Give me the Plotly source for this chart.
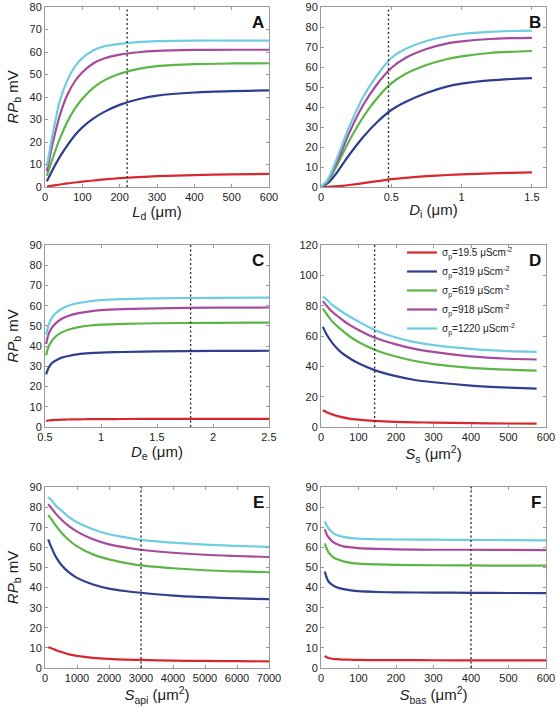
import plotly.graph_objects as go

# ---------------- data ----------------
series_names = ["σ<sub>p</sub>=19.5 μScm<sup>-2</sup>",
                "σ<sub>p</sub>=319 μScm<sup>-2</sup>",
                "σ<sub>p</sub>=619 μScm<sup>-2</sup>",
                "σ<sub>p</sub>=918 μScm<sup>-2</sup>",
                "σ<sub>p</sub>=1220 μScm<sup>-2</sup>"]
series_colors = ["#d7282f", "#2d3f8e", "#5bb646", "#a64a9c", "#6fcde0"]

# Panel A: L_d
a_x = [5, 20, 40, 60, 80, 100, 130, 160, 200, 250, 300, 400, 500, 600]
a_red = [0.2, 0.6, 1.1, 1.6, 2.0, 2.4, 2.9, 3.4, 3.9, 4.4, 4.8, 5.3, 5.6, 5.8]
a_blue = [2.5, 7.5, 13.5, 18.5, 23, 26.5, 30.5, 33.5, 36.5, 39, 40.6, 42, 42.6, 42.9]
a_green = [5, 12.5, 21.6, 29, 34.8, 39.2, 44.2, 47.5, 50.3, 52.5, 53.7, 54.6, 54.9, 55]
a_magenta = [7, 19, 32, 41, 47, 51, 55, 57.2, 58.8, 59.9, 60.5, 60.9, 61, 61]
a_cyan = [9, 23, 38.5, 47.5, 53.5, 57.3, 60.8, 62.6, 63.6, 64.4, 64.8, 65.1, 65.1, 65.1]

# Panel B: D_i
b_x = [0, 0.05, 0.1, 0.15, 0.2, 0.3, 0.4, 0.5, 0.6, 0.75, 0.9, 1.0, 1.2, 1.35, 1.5]
b_red = [0, 0.1, 0.3, 0.6, 1.0, 1.9, 2.9, 3.9, 4.6, 5.4, 6.0, 6.3, 6.8, 7.1, 7.3]
b_blue = [0, 2, 6, 11, 16, 25, 32.5, 38.5, 42.5, 47, 50.3, 51.7, 53.3, 54, 54.4]
b_green = [0, 3, 9, 16, 23, 35, 44.5, 51.8, 56.5, 61, 64, 65.3, 67, 67.6, 68]
b_magenta = [0, 3.5, 10.5, 18.5, 27, 41, 51.5, 59.5, 64.5, 69, 71.8, 72.8, 74, 74.4, 74.6]
b_cyan = [0, 4, 12, 21, 30, 45, 56, 64.5, 69, 73, 75.5, 76.5, 77.6, 78, 78.2]

# Panel C: D_e
c_x = [0.51, 0.53, 0.56, 0.6, 0.65, 0.7, 0.8, 0.9, 1.0, 1.2, 1.5, 2.0, 2.5]
c_red = [3, 3.2, 3.4, 3.5, 3.6, 3.7, 3.8, 3.85, 3.9, 3.95, 4.0, 4.0, 4.05]
c_blue = [26, 29, 31.5, 33, 34.3, 35, 36, 36.5, 36.8, 37.1, 37.4, 37.6, 37.7]
c_green = [35.5, 39.5, 42.5, 45, 46.8, 48, 49.4, 50.2, 50.6, 51, 51.3, 51.5, 51.6]
c_magenta = [41, 45.5, 49, 51.5, 53.5, 54.8, 56.3, 57.2, 57.8, 58.3, 58.7, 59, 59.1]
c_cyan = [45.5, 50, 54, 56.5, 58.5, 59.8, 61.3, 62.2, 62.7, 63.2, 63.6, 63.9, 64]

# Panel D: S_s
d_x = [5, 15, 30, 50, 75, 100, 143, 200, 250, 300, 400, 500, 575]
d_red = [11, 9.8, 8.3, 6.8, 5.5, 4.8, 4, 3.4, 3.1, 2.9, 2.6, 2.3, 2.2]
d_blue = [66, 61, 55.5, 50, 45.5, 42, 37.5, 33.5, 31, 29.5, 27.3, 26, 25.3]
d_green = [78, 74.5, 69.5, 65, 60, 56, 51, 46.5, 43.5, 41.5, 39, 37.8, 37.2]
d_magenta = [83, 80, 76, 72, 67.5, 64, 59, 54.5, 51.5, 49.5, 46.5, 45, 44.5]
d_cyan = [86, 84, 80.5, 77, 73, 69.5, 64, 59, 56, 54, 51.5, 50, 49.5]

# Panel E: S_api
e_x = [100, 200, 350, 500, 750, 1000, 1500, 2000, 2500, 3000, 4000, 5000, 6000, 7000]
e_red = [10.3, 9.8, 8.8, 8, 6.8, 6, 5, 4.5, 4.2, 4, 3.7, 3.5, 3.4, 3.3]
e_blue = [64, 60, 55, 51.5, 47.5, 44.8, 41.5, 39.5, 38.3, 37.4, 36, 35.2, 34.6, 34.2]
e_green = [76, 74, 70.5, 67.5, 63.5, 60.5, 56.5, 54, 52.3, 51, 49.6, 48.6, 48, 47.6]
e_magenta = [81.5, 79.5, 76.5, 74, 70.5, 67.8, 64, 61.5, 60, 58.8, 57.3, 56.3, 55.7, 55.2]
e_cyan = [85, 83.5, 80.5, 78.5, 75, 72.5, 69, 66.5, 65, 63.7, 62.3, 61.3, 60.7, 60.2]

# Panel F: S_bas
f_x = [10, 15, 20, 30, 40, 60, 80, 100, 150, 200, 300, 400, 500, 600]
f_red = [6, 5.3, 5, 4.6, 4.4, 4.2, 4.1, 4.0, 3.95, 3.9, 3.85, 3.8, 3.8, 3.8]
f_blue = [48, 45, 43, 41.3, 40.3, 39.2, 38.6, 38.2, 37.8, 37.6, 37.5, 37.4, 37.3, 37.2]
f_green = [62, 59.5, 57.5, 55.5, 54.3, 53, 52.3, 51.9, 51.5, 51.3, 51.1, 51, 50.9, 50.9]
f_magenta = [69, 66.5, 65, 63, 61.8, 60.5, 60, 59.6, 59.2, 59, 58.8, 58.8, 58.7, 58.6]
f_cyan = [73, 71, 69.5, 67.5, 66.3, 65.2, 64.6, 64.3, 64, 63.9, 63.8, 63.7, 63.6, 63.5]

panel_letters = ["A", "B", "C", "D", "E", "F"]
x_titles = ["<i>L</i><sub>d</sub> (μm)", "<i>D</i><sub>i</sub> (μm)", "<i>D</i><sub>e</sub> (μm)",
            "<i>S</i><sub>s</sub> (μm<sup>2</sup>)", "<i>S</i><sub>api</sub> (μm<sup>2</sup>)",
            "<i>S</i><sub>bas</sub> (μm<sup>2</sup>)"]
y_title = "<i>RP</i><sub>b</sub> mV"
default_values = [220, 0.48, 1.8, 143, 3000, 400]
x_ranges = [[0, 600], [0, 1.6], [0.5, 2.5], [0, 600], [0, 7000], [0, 600]]
x_ticks = [[0, 100, 200, 300, 400, 500, 600], [0, 0.5, 1, 1.5], [0.5, 1, 1.5, 2, 2.5],
           [0, 100, 200, 300, 400, 500, 600], [0, 1000, 2000, 3000, 4000, 5000, 6000, 7000],
           [0, 100, 200, 300, 400, 500, 600]]
y_ranges = [[0, 80], [0, 90], [0, 90], [0, 120], [0, 90], [0, 90]]
y_dtick = [10, 10, 10, 20, 10, 10]

panels = [
    (a_x, [a_red, a_blue, a_green, a_magenta, a_cyan]),
    (b_x, [b_red, b_blue, b_green, b_magenta, b_cyan]),
    (c_x, [c_red, c_blue, c_green, c_magenta, c_cyan]),
    (d_x, [d_red, d_blue, d_green, d_magenta, d_cyan]),
    (e_x, [e_red, e_blue, e_green, e_magenta, e_cyan]),
    (f_x, [f_red, f_blue, f_green, f_magenta, f_cyan]),
]

# ---------------- layout geometry ----------------
W, H = 558, 715
col_px = [(45, 269), (321, 546)]
row_px = [(7, 187), (245, 427), (487, 668)]

FONT = "Liberation Sans, Arial, Helvetica, sans-serif"
fig = go.Figure()

for i, (xs, ys_list) in enumerate(panels):
    n = i + 1
    xa = "x" if n == 1 else f"x{n}"
    ya = "y" if n == 1 else f"y{n}"
    for j, ys in enumerate(ys_list):
        fig.add_trace(go.Scatter(
            x=xs, y=ys, mode="lines", xaxis=xa, yaxis=ya,
            line=dict(color=series_colors[j], width=2.2, shape="spline", smoothing=0.8),
            name=series_names[j], showlegend=(i == 3), hoverinfo="skip"))

for i in range(6):
    n = i + 1
    r, c = divmod(i, 2)
    x0, x1 = col_px[c]
    t, b = row_px[r]
    xkey = "xaxis" if n == 1 else f"xaxis{n}"
    ykey = "yaxis" if n == 1 else f"yaxis{n}"
    axis_common = dict(showline=True, linecolor="#9a9a9a", linewidth=1, mirror="ticks",
                       ticks="inside", ticklen=3, tickcolor="#9a9a9a", showgrid=False,
                       zeroline=False, automargin=True,
                       tickfont=dict(family=FONT, size=11, color="#222"))
    fig.update_layout(**{
        xkey: dict(domain=[x0 / W, x1 / W], anchor="y" if n == 1 else f"y{n}",
                   range=x_ranges[i], tickvals=x_ticks[i],
                   title=dict(text=x_titles[i], font=dict(family=FONT, size=15, color="#222"),
                              standoff=2),
                   **axis_common),
        ykey: dict(domain=[1 - b / H, 1 - t / H], anchor="x" if n == 1 else f"x{n}",
                   range=y_ranges[i], dtick=y_dtick[i], tick0=0,
                   title=dict(text=y_title if c == 0 else "",
                              font=dict(family=FONT, size=15, color="#222"), standoff=7),
                   **axis_common),
    })
    fig.add_shape(type="line", xref=("x" if n == 1 else f"x{n}"), yref=("y domain" if n == 1 else f"y{n} domain"),
                  x0=default_values[i], x1=default_values[i], y0=0, y1=1,
                  line=dict(color="#333", width=1.4, dash="2px,2.5px"))
    fig.add_annotation(text="<b>" + panel_letters[i] + "</b>",
                       xref=("x domain" if n == 1 else f"x{n} domain"),
                       yref=("y domain" if n == 1 else f"y{n} domain"),
                       x=0.985, y=1 - 15 / (b - t), xanchor="right", yanchor="middle",
                       showarrow=False, font=dict(family=FONT, size=17, color="#111"))

fig.update_layout(
    width=W, height=H, autosize=False,
    margin=dict(l=0, r=0, t=0, b=0, autoexpand=False),
    paper_bgcolor="white", plot_bgcolor="white",
    font=dict(family=FONT, color="#222"),
    legend=dict(x=402 / W, y=1 - 238 / H, xanchor="left", yanchor="top",
                bgcolor="rgba(0,0,0,0)", font=dict(family=FONT, size=10, color="#222"),
                itemwidth=30, tracegroupgap=0),
)

fig.write_html("out.html", config={"displayModeBar": False, "staticPlot": True},
               post_script="document.body.style.margin='0';document.body.style.overflow='hidden';")
